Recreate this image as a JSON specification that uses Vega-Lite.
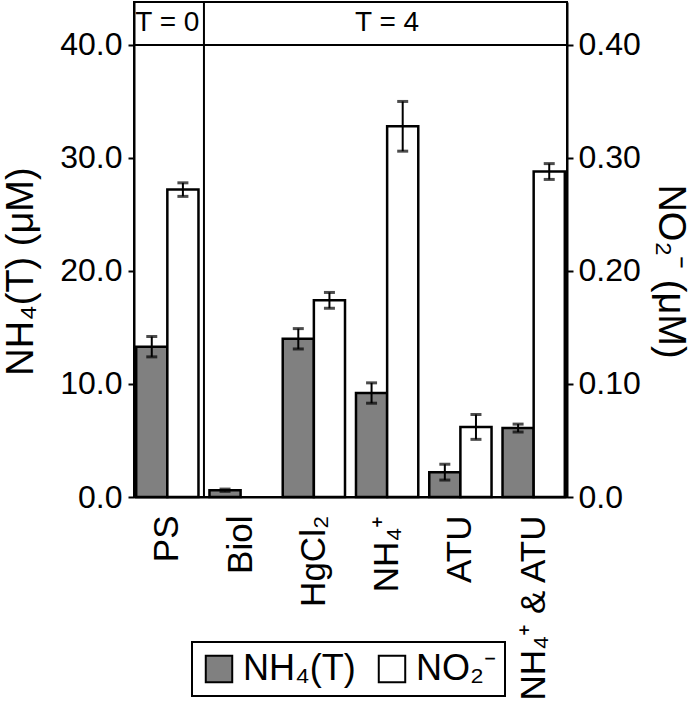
{
  "$schema": "https://vega.github.io/schema/vega-lite/v6.json",
  "width": 433,
  "height": 495,
  "autosize": {"type": "none"},
  "padding": {"left": 134, "top": 2, "right": 133, "bottom": 220},
  "config": {
    "font": "Liberation Sans",
    "view": {"stroke": "black", "strokeWidth": 2},
    "axis": {
      "labelColor": "black", "titleColor": "black", "domainColor": "black", "tickColor": "black",
      "domainWidth": 2, "tickWidth": 2, "grid": false,
      "labelFont": "Liberation Sans", "titleFont": "Liberation Sans",
      "titleFontWeight": "normal", "labelFontSize": 32, "titleFontSize": 38
    },
    "legend": {
      "orient": "none", "legendX": 58, "legendY": 640, "direction": "horizontal",
      "strokeColor": "black", "strokeWidth": 2, "padding": 9,
      "symbolType": "square", "symbolSize": 700, "symbolStrokeColor": "black", "symbolStrokeWidth": 2,
      "labelFontSize": 36, "labelFont": "Liberation Sans", "labelColor": "black",
      "columnPadding": 18, "labelOffset": 6
    }
  },
  "datasets": {
    "bars": [
      {"cat": "PS", "series": "NH₄(T)", "v": 13.3, "lo": 12.4, "hi": 14.2},
      {"cat": "PS", "series": "NO₂⁻", "v": 0.272, "lo": 0.266, "hi": 0.278},
      {"cat": "Biol", "series": "NH₄(T)", "v": 0.6, "lo": 0.5, "hi": 0.7},
      {"cat": "HgCl₂", "series": "NH₄(T)", "v": 14.0, "lo": 13.1, "hi": 14.9},
      {"cat": "HgCl₂", "series": "NO₂⁻", "v": 0.174, "lo": 0.167, "hi": 0.181},
      {"cat": "NH₄⁺", "series": "NH₄(T)", "v": 9.2, "lo": 8.3, "hi": 10.1},
      {"cat": "NH₄⁺", "series": "NO₂⁻", "v": 0.328, "lo": 0.306, "hi": 0.35},
      {"cat": "ATU", "series": "NH₄(T)", "v": 2.2, "lo": 1.5, "hi": 2.9},
      {"cat": "ATU", "series": "NO₂⁻", "v": 0.062, "lo": 0.051, "hi": 0.073},
      {"cat": "NH₄⁺ & ATU", "series": "NH₄(T)", "v": 6.1, "lo": 5.75, "hi": 6.45},
      {"cat": "NH₄⁺ & ATU", "series": "NO₂⁻", "v": 0.288, "lo": 0.281, "hi": 0.295}
    ],
    "headers": [
      {"cat": "PS", "label": "T = 0"},
      {"cat": "NH₄⁺", "label": "T = 4"}
    ]
  },
  "data": {"name": "bars"},
  "layer": [
    {
      "layer": [
        {
          "transform": [{"filter": "datum.series == 'NH₄(T)'"}],
          "mark": {"type": "bar", "stroke": "black", "strokeWidth": 2.5},
          "encoding": {
            "x": {"field": "cat", "type": "nominal", "sort": null,
              "scale": {"domain": ["PS", "Biol", "HgCl₂", "NH₄⁺", "ATU", "NH₄⁺ & ATU"], "paddingInner": 0.15, "paddingOuter": 0.03},
              "axis": {"title": null, "labelAngle": -90, "labelAlign": "right", "labelBaseline": "middle", "ticks": false, "labelPadding": 18, "labelFontSize": 35, "labelLimit": 0}},
            "xOffset": {"field": "series", "type": "nominal", "scale": {"domain": ["NH₄(T)", "NO₂⁻"]}},
            "y": {"field": "v", "type": "quantitative", "scale": {"domain": [0, 43.8], "nice": false, "zero": true},
              "axis": {"orient": "left", "values": [0, 10, 20, 30, 40], "format": ".1f", "title": "NH₄(T) (μM)", "tickSize": 6, "labelPadding": 6, "titleX": -102, "titleY": 269, "titleBaseline": "alphabetic"}},
            "fill": {"field": "series", "type": "nominal", "title": null,
              "scale": {"domain": ["NH₄(T)", "NO₂⁻"], "range": ["#808080", "#ffffff"]}}
          }
        },
        {
          "transform": [{"filter": "datum.series == 'NH₄(T)'"}],
          "mark": {"type": "rule", "color": "black", "strokeWidth": 2},
          "encoding": {
            "x": {"field": "cat", "type": "nominal"},
            "xOffset": {"field": "series", "type": "nominal"},
            "y": {"field": "lo", "type": "quantitative"},
            "y2": {"field": "hi"}
          }
        },
        {
          "transform": [{"filter": "datum.series == 'NH₄(T)'"}],
          "mark": {"type": "tick", "color": "black", "thickness": 3, "size": 11},
          "encoding": {
            "x": {"field": "cat", "type": "nominal"},
            "xOffset": {"field": "series", "type": "nominal"},
            "y": {"field": "lo", "type": "quantitative"}
          }
        },
        {
          "transform": [{"filter": "datum.series == 'NH₄(T)'"}],
          "mark": {"type": "tick", "color": "black", "thickness": 3, "size": 11},
          "encoding": {
            "x": {"field": "cat", "type": "nominal"},
            "xOffset": {"field": "series", "type": "nominal"},
            "y": {"field": "hi", "type": "quantitative"}
          }
        },
        {
          "data": {"values": [{}]},
          "mark": {"type": "rule", "color": "black", "strokeWidth": 2},
          "encoding": {"y": {"datum": 40, "type": "quantitative"}}
        },
        {
          "data": {"values": [{}]},
          "mark": {"type": "rule", "color": "black", "strokeWidth": 2},
          "encoding": {"x": {"datum": "PS", "type": "nominal", "bandPosition": 1.088}}
        },
        {
          "data": {"name": "headers"},
          "mark": {"type": "text", "fontSize": 28, "color": "black", "baseline": "middle", "font": "Liberation Sans"},
          "encoding": {
            "x": {"field": "cat", "type": "nominal"},
            "y": {"datum": 41.9, "type": "quantitative"},
            "text": {"field": "label"}
          }
        }
      ]
    },
    {
      "layer": [
        {
          "transform": [{"filter": "datum.series == 'NO₂⁻'"}],
          "mark": {"type": "bar", "stroke": "black", "strokeWidth": 2.5},
          "encoding": {
            "x": {"field": "cat", "type": "nominal"},
            "xOffset": {"field": "series", "type": "nominal"},
            "y": {"field": "v", "type": "quantitative", "scale": {"domain": [0, 0.438], "nice": false, "zero": true},
              "axis": {"orient": "right", "values": [0, 0.1, 0.2, 0.3, 0.4], "labelExpr": "datum.value == 0 ? '0.0' : format(datum.value, '.2f')", "title": "NO₂⁻ (μM)", "tickSize": 6, "labelPadding": 5, "titleX": 91, "titleY": 269, "titleBaseline": "alphabetic"}},
            "fill": {"field": "series", "type": "nominal", "title": null}
          }
        },
        {
          "transform": [{"filter": "datum.series == 'NO₂⁻'"}],
          "mark": {"type": "rule", "color": "black", "strokeWidth": 2},
          "encoding": {
            "x": {"field": "cat", "type": "nominal"},
            "xOffset": {"field": "series", "type": "nominal"},
            "y": {"field": "lo", "type": "quantitative"},
            "y2": {"field": "hi"}
          }
        },
        {
          "transform": [{"filter": "datum.series == 'NO₂⁻'"}],
          "mark": {"type": "tick", "color": "black", "thickness": 3, "size": 11},
          "encoding": {
            "x": {"field": "cat", "type": "nominal"},
            "xOffset": {"field": "series", "type": "nominal"},
            "y": {"field": "lo", "type": "quantitative"}
          }
        },
        {
          "transform": [{"filter": "datum.series == 'NO₂⁻'"}],
          "mark": {"type": "tick", "color": "black", "thickness": 3, "size": 11},
          "encoding": {
            "x": {"field": "cat", "type": "nominal"},
            "xOffset": {"field": "series", "type": "nominal"},
            "y": {"field": "hi", "type": "quantitative"}
          }
        }
      ]
    }
  ],
  "resolve": {"scale": {"y": "independent"}}
}
